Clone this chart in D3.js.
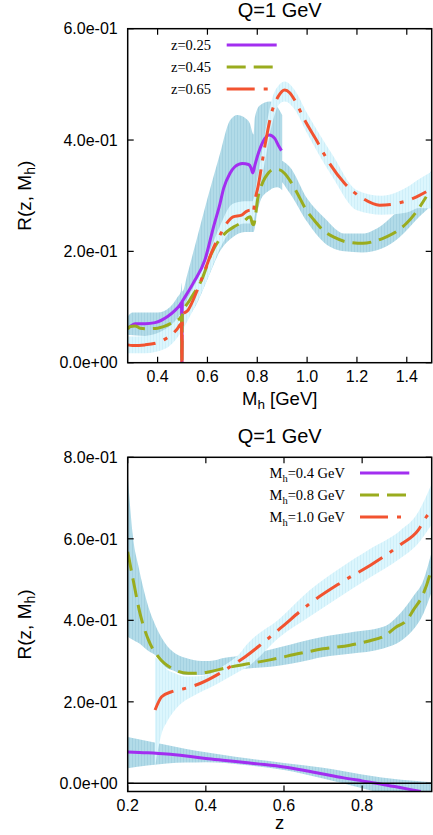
<!DOCTYPE html>
<html><head><meta charset="utf-8">
<script src="https://cdn.jsdelivr.net/npm/d3@7"></script>
<style>body{margin:0;background:#fff}svg{display:block}</style>
</head><body><svg id="c" width="433" height="835"></svg>
<script>
// ---------- DATA ----------
const titleText = "Q=1 GeV";
const topXTicks = [0.4, 0.6, 0.8, 1.0, 1.2, 1.4];
const topYTicks = [0, 0.2, 0.4, 0.6];
const botXTicks = [0.2, 0.4, 0.6, 0.8];
const botYTicks = [0, 0.2, 0.4, 0.6, 0.8];
const topLegend = ["z=0.25", "z=0.45", "z=0.65"];
const botLegend = ["=0.4 GeV", "=0.8 GeV", "=1.0 GeV"];

// top panel: R vs M_h
const z025_x = [0.28,0.29,0.31,0.35,0.39,0.44,0.47,0.49,0.496,0.4975,0.499,0.503,0.543,0.59,0.625,0.65,0.665,0.69,0.71,0.74,0.765,0.775,0.782,0.79,0.80,0.823,0.848,0.87,0.885,0.897];
const z025_r = [0.062,0.065,0.070,0.070,0.072,0.083,0.094,0.104,0.108,0.0,0.110,0.113,0.143,0.185,0.245,0.285,0.313,0.340,0.352,0.358,0.356,0.350,0.341,0.354,0.370,0.397,0.409,0.403,0.390,0.381];
const z025_bx = [0.28,0.30,0.35,0.40,0.45,0.48,0.493,0.496,0.499,0.52,0.55,0.60,0.65,0.69,0.72,0.75,0.77,0.785,0.79,0.81,0.85,0.88,0.9];
const z025_lo = [0.050,0.052,0.053,0.055,0.063,0.075,0.085,0.085,0.09,0.10,0.12,0.16,0.21,0.24,0.245,0.245,0.245,0.245,0.26,0.29,0.31,0.315,0.31];
const z025_hi = [0.083,0.090,0.090,0.090,0.100,0.118,0.128,0.143,0.128,0.16,0.21,0.295,0.375,0.435,0.445,0.44,0.43,0.41,0.44,0.462,0.469,0.46,0.445];

const z045_x = [0.28,0.29,0.31,0.33,0.36,0.40,0.456,0.49,0.496,0.4975,0.499,0.53,0.577,0.617,0.657,0.677,0.71,0.743,0.772,0.78,0.785,0.803,0.823,0.843,0.865,0.884,0.91,0.93,0.96,0.997,1.03,1.064,1.11,1.158,1.224,1.27,1.318,1.36,1.398,1.44,1.478];
const z045_r = [0.060,0.065,0.066,0.062,0.061,0.062,0.071,0.080,0.083,0.0,0.086,0.113,0.149,0.197,0.226,0.235,0.245,0.253,0.262,0.250,0.248,0.298,0.325,0.340,0.347,0.347,0.340,0.328,0.305,0.274,0.255,0.238,0.225,0.217,0.2145,0.218,0.226,0.236,0.250,0.272,0.298];
const z045_bx = [0.28,0.35,0.45,0.49,0.55,0.60,0.65,0.70,0.75,0.78,0.785,0.80,0.85,0.88,0.93,1.0,1.07,1.15,1.22,1.30,1.37,1.45,1.5];
const z045_lo = [0.05,0.048,0.058,0.068,0.10,0.15,0.20,0.225,0.235,0.235,0.235,0.27,0.32,0.33,0.305,0.253,0.215,0.2,0.198,0.205,0.225,0.262,0.283];
const z045_hi = [0.07,0.072,0.082,0.095,0.14,0.19,0.235,0.26,0.27,0.27,0.265,0.31,0.36,0.365,0.352,0.295,0.26,0.232,0.232,0.247,0.275,0.31,0.346];

const z065_x = [0.28,0.30,0.349,0.40,0.436,0.476,0.496,0.4975,0.499,0.523,0.557,0.59,0.623,0.65,0.68,0.703,0.737,0.757,0.772,0.783,0.79,0.803,0.83,0.857,0.884,0.91,0.93,0.95,0.99,1.037,1.09,1.151,1.224,1.291,1.358,1.425,1.478];
const z065_r = [0.032,0.031,0.032,0.036,0.044,0.059,0.070,0.0,0.085,0.095,0.128,0.1665,0.205,0.229,0.252,0.262,0.265,0.272,0.274,0.268,0.290,0.316,0.388,0.448,0.478,0.490,0.485,0.472,0.436,0.400,0.358,0.322,0.295,0.283,0.286,0.295,0.307];
const z065_bx = [0.28,0.35,0.43,0.47,0.495,0.52,0.56,0.60,0.65,0.70,0.75,0.78,0.80,0.83,0.86,0.89,0.91,0.95,1.0,1.1,1.2,1.3,1.4,1.45,1.5];
const z065_lo = [0.017,0.017,0.025,0.04,0.055,0.075,0.11,0.15,0.205,0.24,0.25,0.25,0.29,0.36,0.43,0.465,0.469,0.455,0.412,0.335,0.274,0.266,0.27,0.278,0.277];
const z065_hi = [0.047,0.048,0.06,0.075,0.09,0.115,0.15,0.19,0.245,0.285,0.29,0.29,0.33,0.41,0.475,0.50,0.505,0.49,0.448,0.375,0.31,0.30,0.315,0.33,0.343];

// bottom panel: R vs z
const m04_z = [0.2,0.25,0.3,0.35,0.4,0.45,0.5,0.55,0.6,0.65,0.7,0.75,0.8,0.85,0.9,0.95];
const m04_r = [0.077,0.075,0.072,0.067,0.061,0.056,0.051,0.046,0.040,0.032,0.023,0.014,0.006,-0.002,-0.011,-0.02];
const m04_bz = [0.2,0.25,0.3,0.35,0.4,0.45,0.5,0.6,0.7,0.8,0.9,0.978];
const m04_lo = [0.037,0.044,0.049,0.051,0.052,0.05,0.045,0.033,0.012,-0.012,-0.035,-0.05];
const m04_hi = [0.114,0.104,0.094,0.084,0.076,0.069,0.062,0.05,0.038,0.022,0.009,0.003];

const m08_z = [0.2,0.214,0.2315,0.253,0.278,0.313,0.355,0.389,0.41,0.45,0.513,0.564,0.641,0.70,0.769,0.82,0.854,0.888,0.914,0.931,0.957,0.974,0.978];
const m08_r = [0.568,0.499,0.417,0.352,0.311,0.282,0.270,0.271,0.274,0.283,0.294,0.303,0.319,0.330,0.339,0.350,0.360,0.384,0.400,0.425,0.466,0.515,0.53];
const m08_bz = [0.2,0.214,0.227,0.253,0.27,0.295,0.321,0.347,0.39,0.41,0.449,0.475,0.594,0.641,0.7,0.769,0.854,0.9,0.93,0.957,0.978];
const m08_lo = [0.36,0.352,0.345,0.325,0.315,0.286,0.275,0.266,0.266,0.268,0.274,0.278,0.29,0.298,0.31,0.318,0.331,0.35,0.376,0.417,0.47];
const m08_hi = [0.757,0.60,0.535,0.433,0.39,0.345,0.319,0.308,0.300,0.300,0.308,0.311,0.335,0.347,0.36,0.37,0.384,0.42,0.458,0.499,0.568];

const m10_z = [0.27,0.287,0.313,0.347,0.385,0.432,0.462,0.5,0.539,0.59,0.667,0.743,0.829,0.897,0.944,0.965,0.978];
const m10_r = [0.18,0.2125,0.225,0.233,0.245,0.268,0.286,0.31,0.339,0.38,0.442,0.491,0.54,0.585,0.622,0.655,0.67];
const m10_bz = [0.27,0.287,0.3,0.321,0.35,0.364,0.4,0.415,0.44,0.492,0.5,0.59,0.667,0.743,0.82,0.897,0.94,0.978];
const m10_lo = [0.04,0.123,0.15,0.18,0.205,0.2125,0.23,0.237,0.25,0.278,0.282,0.36,0.41,0.458,0.505,0.552,0.585,0.635];
const m10_hi = [0.31,0.295,0.28,0.27,0.262,0.262,0.265,0.27,0.285,0.325,0.335,0.405,0.475,0.528,0.575,0.62,0.66,0.735];

// ---------- STYLE ----------
const C_PURPLE = "#a22ef0", C_GREEN = "#9aac1e", C_RED = "#f25330";
const SANS = "'Liberation Sans', Arial, Helvetica, sans-serif";
const SERIF = "'Liberation Serif', 'Times New Roman', serif";
const DASH = {solid: null, dash: "19,8", dashdot: "28,9,4,9"};

const svg = d3.select("#c");
// vertical-stripe fills like gnuplot's pattern bands
const defs = svg.append("defs");
function stripe(id, base, line) {
  const p = defs.append("pattern").attr("id", id).attr("patternUnits", "userSpaceOnUse")
    .attr("width", 3).attr("height", 10);
  p.append("rect").attr("width", 3).attr("height", 10).attr("fill", base);
  p.append("rect").attr("width", 1).attr("height", 10).attr("fill", line);
}
stripe("bandDark", "#b2dbe8", "#a4d1e1");
stripe("bandLight", "#dcf6fd", "#cfeff9");
const BAND_DARK = "url(#bandDark)", BAND_LIGHT = "url(#bandLight)";

const zip = (xs, ys) => xs.map((x, i) => [x, ys[i]]);
const zip3 = (xs, a, b) => xs.map((x, i) => [x, a[i], b[i]]);
const fmtE = v => d3.format(".1e")(v).replace(/e([+-])(\d)$/, "e$10$2");

function panel(cfg) {
  const {x, y, id} = cfg;
  const [x0, x1] = x.range(), [y1, y0] = y.range();
  const g = svg.append("g");
  defs.append("clipPath").attr("id", id).append("rect")
    .attr("x", x0).attr("y", y0).attr("width", x1 - x0).attr("height", y1 - y0);
  const plot = g.append("g").attr("clip-path", `url(#${id})`);
  const area = d3.area().x(d => x(d[0])).y0(d => y(d[1])).y1(d => y(d[2])).curve(d3.curveMonotoneX);
  const line = d3.line().x(d => x(d[0])).y(d => y(d[1])).curve(d3.curveMonotoneX);
  cfg.bands.forEach(b => plot.append("path").attr("d", area(b.data)).attr("fill", b.fill));
  cfg.lines.forEach(l => plot.append("path").attr("d", line(l.data)).attr("fill", "none")
    .attr("stroke", l.color).attr("stroke-width", 3).attr("stroke-dasharray", DASH[l.style]));
  if (cfg.zeroLine) g.append("line").attr("x1", x0).attr("x2", x1).attr("y1", y(0)).attr("y2", y(0))
    .attr("stroke", "#000").attr("stroke-width", 1.5);
  const tl = 6;
  cfg.xticks.forEach(t => {
    g.append("line").attr("x1", x(t)).attr("x2", x(t)).attr("y1", y1).attr("y2", y1 - tl).attr("stroke", "#000").attr("stroke-width", 1.2);
    g.append("line").attr("x1", x(t)).attr("x2", x(t)).attr("y1", y0).attr("y2", y0 + tl).attr("stroke", "#000").attr("stroke-width", 1.2);
    g.append("text").attr("x", x(t)).attr("y", y1 + 19).attr("text-anchor", "middle")
      .attr("font-family", SANS).attr("font-size", 16).text(d3.format(".1f")(t));
  });
  cfg.yticks.forEach(t => {
    g.append("line").attr("x1", x0).attr("x2", x0 + tl).attr("y1", y(t)).attr("y2", y(t)).attr("stroke", "#000").attr("stroke-width", 1.2);
    g.append("line").attr("x1", x1).attr("x2", x1 - tl).attr("y1", y(t)).attr("y2", y(t)).attr("stroke", "#000").attr("stroke-width", 1.2);
    g.append("text").attr("x", x0 - 10).attr("y", y(t)).attr("dy", "0.36em").attr("text-anchor", "end")
      .attr("font-family", SANS).attr("font-size", 16).text(fmtE(t));
  });
  g.append("rect").attr("x", x0).attr("y", y0).attr("width", x1 - x0).attr("height", y1 - y0)
    .attr("fill", "none").attr("stroke", "#000").attr("stroke-width", 1.5);
  g.append("text").attr("x", (x0 + x1) / 2).attr("y", cfg.titleY).attr("text-anchor", "middle")
    .attr("font-family", SANS).attr("font-size", 20).text(titleText);
  const yl = g.append("text").attr("transform", `translate(${cfg.ylabX},${(y0 + y1) / 2}) rotate(-90)`)
    .attr("text-anchor", "middle").attr("font-family", SANS).attr("font-size", 19);
  yl.append("tspan").text("R(z, M");
  yl.append("tspan").attr("font-size", 14).attr("dy", 4).text("h");
  yl.append("tspan").attr("dy", -4).text(")");
  const xl = g.append("text").attr("x", (x0 + x1) / 2).attr("y", cfg.xlabY).attr("text-anchor", "middle")
    .attr("font-family", SANS).attr("font-size", 18.5);
  cfg.xlabel(xl);
  cfg.legend.forEach((L, i) => {
    const ly = cfg.legY[i];
    const t = g.append("text").attr("x", cfg.legTextX).attr("y", ly + 5).attr("text-anchor", "end")
      .attr("font-family", SERIF).attr("font-size", 14.5);
    L.label(t);
    g.append("line").attr("x1", cfg.legLine[0]).attr("x2", cfg.legLine[1]).attr("y1", ly).attr("y2", ly)
      .attr("stroke", L.color).attr("stroke-width", 3).attr("stroke-dasharray", DASH[L.style]);
  });
}

panel({
  id: "clipTop", titleY: 16.5,
  x: d3.scaleLinear([0.28, 1.5], [127.7, 431.7]),
  y: d3.scaleLinear([0, 0.6], [362.7, 28.7]),
  xticks: topXTicks, yticks: topYTicks, ylabX: 31, xlabY: 405,
  xlabel: t => { t.append("tspan").text("M"); t.append("tspan").attr("font-size", 13.5).attr("dy", 4).text("h");
                 t.append("tspan").attr("dy", -4).text(" [GeV]"); },
  bands: [
    {data: zip3(z025_bx, z025_lo, z025_hi), fill: BAND_DARK},
    {data: zip3(z045_bx, z045_lo, z045_hi), fill: BAND_DARK},
    {data: zip3(z065_bx, z065_lo, z065_hi), fill: BAND_LIGHT}
  ],
  lines: [
    {data: zip(z025_x, z025_r), color: C_PURPLE, style: "solid"},
    {data: zip(z045_x, z045_r), color: C_GREEN, style: "dash"},
    {data: zip(z065_x, z065_r), color: C_RED, style: "dashdot"}
  ],
  legend: [
    {label: t => t.text(topLegend[0]), color: C_PURPLE, style: "solid"},
    {label: t => t.text(topLegend[1]), color: C_GREEN, style: "dash"},
    {label: t => t.text(topLegend[2]), color: C_RED, style: "dashdot"}
  ],
  legY: [45, 67, 89], legTextX: 211, legLine: [226.7, 276.7]
});

const mhLabel = s => t => { t.append("tspan").text("M"); t.append("tspan").attr("font-size", 10.5).attr("dy", 4).text("h");
  t.append("tspan").attr("dy", -4).text(s); };
panel({
  id: "clipBot", zeroLine: true, titleY: 443,
  x: d3.scaleLinear([0.2, 0.978], [127.7, 431.7]),
  y: d3.scaleLinear([-0.02, 0.8], [791.5, 457.3]),
  xticks: botXTicks, yticks: botYTicks, ylabX: 31, xlabY: 829,
  xlabel: t => t.text("z"),
  bands: [
    {data: zip3(m04_bz, m04_lo, m04_hi), fill: BAND_DARK},
    {data: zip3(m08_bz, m08_lo, m08_hi), fill: BAND_DARK},
    {data: zip3(m10_bz, m10_lo, m10_hi), fill: BAND_LIGHT}
  ],
  lines: [
    {data: zip(m04_z, m04_r), color: C_PURPLE, style: "solid"},
    {data: zip(m08_z, m08_r), color: C_GREEN, style: "dash"},
    {data: zip(m10_z, m10_r), color: C_RED, style: "dashdot"}
  ],
  legend: [
    {label: mhLabel(botLegend[0]), color: C_PURPLE, style: "solid"},
    {label: mhLabel(botLegend[1]), color: C_GREEN, style: "dash"},
    {label: mhLabel(botLegend[2]), color: C_RED, style: "dashdot"}
  ],
  legY: [473, 495, 517], legTextX: 345, legLine: [360, 409.3]
});
</script></body></html>
